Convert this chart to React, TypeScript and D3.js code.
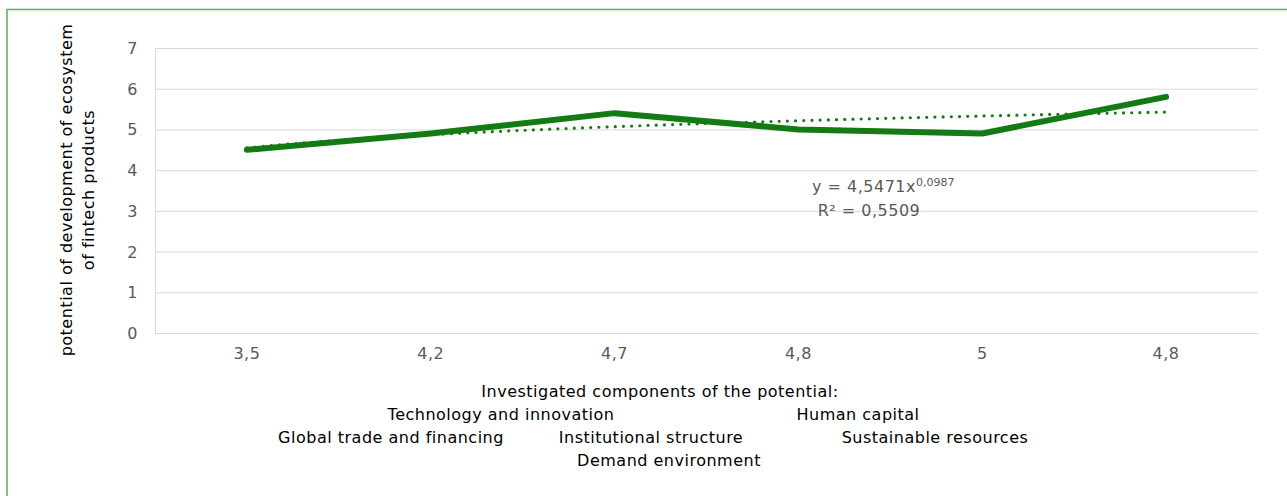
import React from "react";
import * as d3 from "d3";

const categories = ["3,5", "4,2", "4,7", "4,8", "5", "4,8"];
const values = [4.5, 4.9, 5.4, 5.0, 4.9, 5.8];
const yTicks = [0, 1, 2, 3, 4, 5, 6, 7];
const trendA = 4.5471;
const trendB = 0.0987;
const eqMain = "y = 4,5471x";
const eqSup = "0,0987";
const r2Text = "R² = 0,5509";
const yTitle = ["potential of development of ecosystem", "of fintech products"];
const xTitleHead = "Investigated components of the potential:";
const components = [
  "Technology and innovation",
  "Human capital",
  "Global trade and financing",
  "Institutional structure",
  "Sustainable resources",
  "Demand environment",
];

const W = 1287;
const H = 496;
const M = { left: 155, right: 1258, top: 48, bottom: 333 };
const FONT = "'DejaVu Sans', sans-serif";
const GREEN = "#147a14";
const FS = 16;
const LS = 0.5;

export default function App() {
  const idx = categories.map((_, i) => String(i));
  const x = d3.scaleBand<string>().domain(idx).range([M.left, M.right]);
  const cx = (i: number) => (x(String(i)) as number) + x.bandwidth() / 2;
  const y = d3.scaleLinear().domain([0, 7]).range([M.bottom, M.top]);

  const line = d3
    .line<number>()
    .x((_, i) => cx(i))
    .y((d) => y(d));

  // trendline from the displayed power equation, x = 1..n
  const tx = d3.scaleLinear().domain([1, categories.length]).range([cx(0), cx(categories.length - 1)]);
  const trendPts = d3.range(1, categories.length + 0.001, 0.05);
  const trend = d3
    .line<number>()
    .x((t) => tx(t))
    .y((t) => y(trendA * Math.pow(t, trendB)));

  // component label positions (centers) in the multi-line axis title
  const compPos = [
    [501, 0],
    [858, 0],
    [391, 1],
    [651, 1],
    [935, 1],
    [669, 2],
  ];

  return (
    <svg
      width={W}
      height={H}
      style={{ position: "absolute", left: 0, top: 0, background: "#fff" }}
      fontFamily={FONT}
      letterSpacing={LS}
    >
      <rect x={7} y={9.5} width={1400} height={600} fill="#fff" stroke="#62b462" strokeWidth={1.6} />
      {yTicks.map((t) => (
        <line key={t} x1={M.left} x2={M.right} y1={y(t) + 0.5} y2={y(t) + 0.5} stroke="#d9d9d9" strokeWidth={1} />
      ))}
      <line x1={M.left + 0.5} x2={M.left + 0.5} y1={M.top} y2={M.bottom} stroke="#d9d9d9" />
      {yTicks.map((t) => (
        <text key={"yl" + t} x={138} y={y(t) + 6} textAnchor="end" fontSize={FS} fill="#595959">
          {t}
        </text>
      ))}
      {categories.map((c, i) => (
        <text key={"xl" + i} x={cx(i)} y={359} textAnchor="middle" fontSize={FS} fill="#595959">
          {c}
        </text>
      ))}
      <path d={trend(trendPts) || ""} fill="none" stroke={GREEN} strokeWidth={3.2} strokeDasharray="0 8.2" strokeLinecap="round" />
      <path d={line(values) || ""} fill="none" stroke={GREEN} strokeWidth={6} strokeLinecap="round" strokeLinejoin="round" />
      <text x={812} y={192} fontSize={FS} fill="#595959">
        {eqMain}
        <tspan fontSize={11} dy={-6} letterSpacing={0}>{eqSup}</tspan>
      </text>
      <text x={869} y={216} textAnchor="middle" fontSize={FS} fill="#595959">
        {r2Text}
      </text>
      <g transform="translate(72,190) rotate(-90)">
        <text x={0} y={0} textAnchor="middle" fontSize={FS} fill="#000">
          {yTitle[0]}
        </text>
        <text x={0} y={22} textAnchor="middle" fontSize={FS} fill="#000">
          {yTitle[1]}
        </text>
      </g>
      <text x={660} y={397} textAnchor="middle" fontSize={FS} fill="#000">
        {xTitleHead}
      </text>
      {components.map((c, i) => (
        <text key={c} x={compPos[i][0]} y={420 + compPos[i][1] * 23} textAnchor="middle" fontSize={FS} fill="#000">
          {c}
        </text>
      ))}
    </svg>
  );
}
